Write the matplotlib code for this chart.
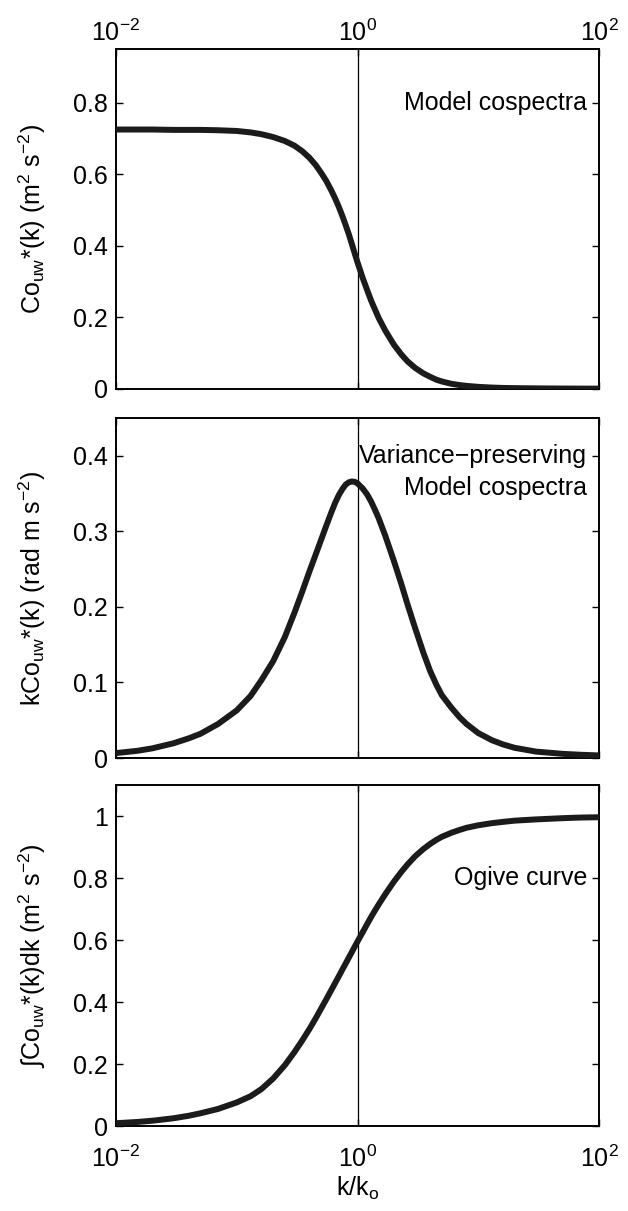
import matplotlib
matplotlib.use("Agg")
import matplotlib.pyplot as plt
from matplotlib.ticker import FixedLocator, NullLocator, LogFormatterSciNotation

plt.rcParams['font.family'] = ['Liberation Sans', 'DejaVu Sans']
plt.rcParams['mathtext.fontset'] = 'custom'
plt.rcParams['mathtext.rm'] = 'Liberation Sans'
plt.rcParams['mathtext.it'] = 'Liberation Sans:italic'
plt.rcParams['mathtext.bf'] = 'Liberation Sans:bold'

# normalised wavenumber k/k_o
k_norm = [0.01, 0.015, 0.02, 0.03, 0.04, 0.05, 0.07, 0.1, 0.13, 0.16, 0.2,
          0.25, 0.3, 0.35, 0.4, 0.45, 0.5, 0.55, 0.6, 0.65, 0.7, 0.75, 0.8,
          0.85, 0.9, 0.95, 1.0, 1.1, 1.2, 1.3, 1.4, 1.5, 1.7, 2.0, 2.3, 2.6,
          3.0, 3.5, 4.0, 4.5, 5.0, 6.0, 7.0, 8.0, 10.0, 13.0, 16.0, 20.0,
          30.0, 50.0, 70.0, 100.0]

# model cospectrum Co_uw*(k)
cospectrum = [0.725, 0.725, 0.725, 0.724, 0.724, 0.724, 0.723, 0.721, 0.717,
              0.712, 0.704, 0.693, 0.680, 0.664, 0.646, 0.626, 0.604, 0.582,
              0.558, 0.534, 0.509, 0.483, 0.457, 0.431, 0.404, 0.378, 0.354,
              0.312, 0.277, 0.246, 0.221, 0.198, 0.163, 0.124, 0.097, 0.077,
              0.059, 0.044, 0.034, 0.026, 0.021, 0.0145, 0.011, 0.0088,
              0.006, 0.004, 0.003, 0.0024, 0.0018, 0.0013, 0.0011, 0.001]

# variance-preserving form k*Co_uw*(k)
var_preserving = [0.0065, 0.0095, 0.0128, 0.0195, 0.026, 0.032, 0.045,
                  0.063, 0.082, 0.103, 0.128, 0.160, 0.192, 0.221, 0.247,
                  0.269, 0.289, 0.307, 0.323, 0.337, 0.348, 0.356, 0.362,
                  0.365, 0.366, 0.3655, 0.3635, 0.357, 0.349, 0.339, 0.328,
                  0.317, 0.294, 0.261, 0.231, 0.203, 0.172, 0.140, 0.115,
                  0.097, 0.083, 0.0665, 0.054, 0.045, 0.033, 0.0235, 0.018,
                  0.0135, 0.0085, 0.0055, 0.0043, 0.0034]

# cumulative integral (ogive)
ogive = [0.009, 0.013, 0.017, 0.025, 0.033, 0.041, 0.055, 0.076, 0.096,
         0.119, 0.153, 0.196, 0.238, 0.277, 0.313, 0.347, 0.379, 0.408,
         0.435, 0.460, 0.483, 0.505, 0.525, 0.544, 0.562, 0.579, 0.595,
         0.624, 0.651, 0.675, 0.696, 0.715, 0.748, 0.788, 0.819, 0.844,
         0.870, 0.893, 0.910, 0.923, 0.933, 0.946, 0.955, 0.962, 0.970,
         0.977, 0.981, 0.985, 0.989, 0.993, 0.995, 0.996]

x_ticks = [1e-2, 1e0, 1e2]
y_ticks_top = [0, 0.2, 0.4, 0.6, 0.8]
y_ticks_mid = [0, 0.1, 0.2, 0.3, 0.4]
y_ticks_bot = [0, 0.2, 0.4, 0.6, 0.8, 1]
y_limits = [(0, 0.95), (0, 0.45), (0, 1.1)]

ylabels = [
    'Co$_{\\mathrm{uw}}$*(k) (m$^2$ s$^{-2}$)',
    'kCo$_{\\mathrm{uw}}$*(k) (rad m s$^{-2}$)',
    '\u222bCo$_{\\mathrm{uw}}$*(k)dk (m$^2$ s$^{-2}$)',
]
annotations = [
    [('Model cospectra', 0.8)],
    [('Variance\u2212preserving', 0.4), ('Model cospectra', 0.357)],
    [('Ogive curve', 0.8)],
]

FS = 18
W, H = 628, 1211
fig = plt.figure(figsize=(W / 100, H / 100), dpi=100)
left, right = 116 / W, 599 / W
boxes = [(49, 389), (418, 758), (785, 1126)]
curve_color = '#1d1a1a'

series = [cospectrum, var_preserving, ogive]
yticks = [y_ticks_top, y_ticks_mid, y_ticks_bot]
for i, (t, b) in enumerate(boxes):
    ax = fig.add_axes([left, 1 - b / H, right - left, (b - t) / H])
    ax.set_xscale('log')
    ax.set_xlim(1e-2, 1e2)
    ax.set_ylim(*y_limits[i])
    ax.axvline(1.0, color='black', lw=0.9, zorder=1)
    ax.plot(k_norm, series[i], color=curve_color, lw=4.3,
            solid_capstyle='butt', solid_joinstyle='round', zorder=3)
    ax.xaxis.set_major_locator(FixedLocator(x_ticks))
    ax.xaxis.set_minor_locator(NullLocator())
    ax.xaxis.set_major_formatter(LogFormatterSciNotation())
    ax.set_yticks(yticks[i])
    ax.set_yticklabels([('%g' % v) for v in yticks[i]])
    ax.tick_params(axis='both', direction='in', length=5, width=1.0,
                   labelsize=FS, right=True, top=True)
    ax.tick_params(axis='y', pad=6)
    for sp in ax.spines.values():
        sp.set_linewidth(1.4)
    ax.set_ylabel(ylabels[i], fontsize=FS)
    ax.yaxis.set_label_coords(-0.14, 0.5)
    for txt, yv in annotations[i]:
        ax.text(0.975, yv, txt, transform=ax.get_yaxis_transform(),
                ha='right', va='center', fontsize=FS)
    if i == 0:
        ax.tick_params(axis='x', labeltop=True, labelbottom=False, pad=2)
    elif i == 1:
        ax.tick_params(axis='x', labeltop=False, labelbottom=False)
    else:
        ax.tick_params(axis='x', labeltop=False, labelbottom=True, pad=14)
        ax.set_xlabel('k/k$_{\\mathrm{o}}$', fontsize=FS, labelpad=2)

fig.savefig('out.png', dpi=100)
